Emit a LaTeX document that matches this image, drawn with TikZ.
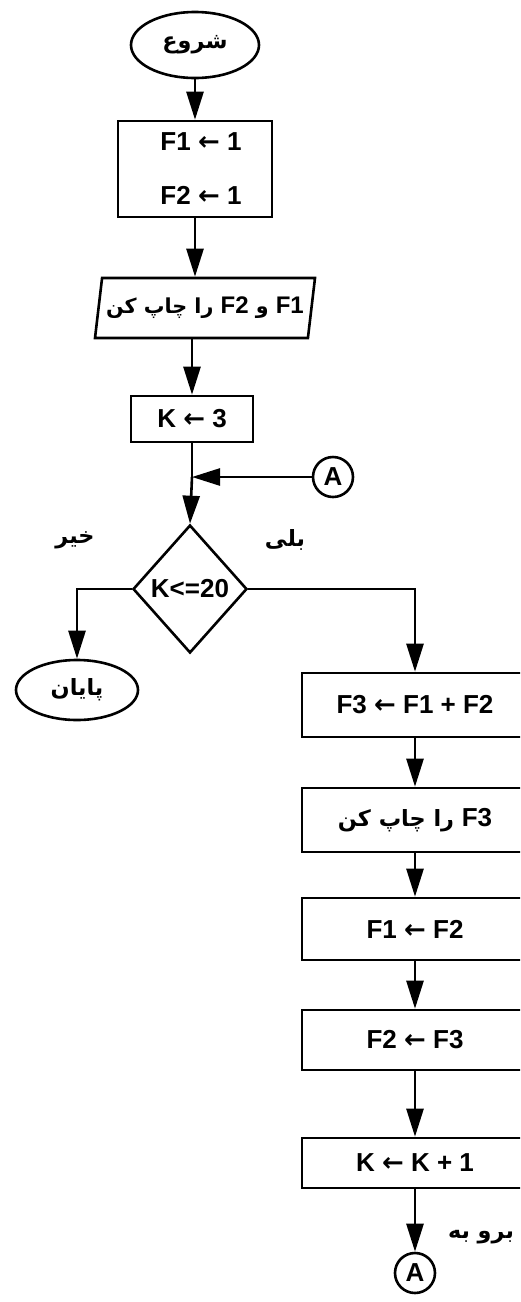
\documentclass[tikz,border=0pt]{standalone}
\usepackage{fontspec}
\setmainfont{Liberation Sans}
\newfontfamily\fafont[Script=Arabic,Scale=0.86]{DejaVu Sans}
\newfontfamily\pfeilfont{DejaVu Sans}
\TeXXeTstate=1
\usetikzlibrary{shapes.geometric,arrows.meta,positioning}

% persischer Text (rechts nach links), lateinische Teile darin
\newcommand{\fa}[1]{{\fafont\beginR #1\endR}}
\newcommand{\la}[1]{\beginL{\rmfamily #1}\endL{}}
% Zuweisungspfeil
\newcommand{\zuw}{{\pfeilfont\fontsize{13}{15}\selectfont ←}}

\tikzset{
  >={Triangle[length=14pt,width=8.5pt]},
  every node/.style={font=\bfseries\fontsize{13}{15}\selectfont},
  linie/.style={line width=1.3pt},
  pfeil/.style={linie,->},
  grenze/.style={ellipse,draw,line width=1.3pt,inner sep=0pt},
  anweisung/.style={rectangle,draw,line width=1.3pt,inner sep=0pt},
  ausgabe/.style={trapezium,trapezium left angle=72,trapezium right angle=108,
    trapezium stretches body,draw,line width=1.3pt,inner sep=0pt},
  frage/.style={diamond,draw,line width=1.3pt,inner sep=0pt},
  verbinder/.style={circle,draw,line width=1.3pt,inner sep=0pt,minimum size=20pt},
}

\begin{document}
\begin{tikzpicture}[x=0.5pt,y=-0.5pt]
\useasboundingbox (0,0) rectangle (520,1302);
\clip (0,0) rectangle (520,1302);

% Start und Initialisierung
\node[grenze,minimum width=64pt,minimum height=33pt] (start) at (195,45) {\fa{شروع}};
\node[anweisung,minimum width=77pt,minimum height=48pt,align=center] (init) at (195,169)
  {\hspace*{6pt}F1 \zuw{} 1\\[12pt]\hspace*{6pt}F2 \zuw{} 1};
\node[ausgabe,minimum width=110pt,minimum height=30pt,font=\bfseries\fontsize{12}{14}\selectfont]
  (druck) at (205,308) {\fa{\la{F1} و \la{F2} را چاپ کن}};
\node[anweisung,minimum width=61pt,minimum height=23pt] (k) at (192,419) {K \zuw{} 3};

% Rücksprung A und Entscheidung
\coordinate (m) at (192,477);
\node[verbinder] (a1) at (333,477) {A};
\node[frage,minimum width=57pt,minimum height=64pt] (dec) at (190,589) {K<=20};
\node (nein) at (75,540) {\fa{خیر}};
\node (ja) at (285,540) {\fa{بلی}};
\node[grenze,minimum width=61pt,minimum height=30pt] (ende) at (77,690) {\fa{پایان}};

% Schleifenrumpf
\node[anweisung,minimum width=113pt,minimum height=32pt] (b1) at (415,705) {F3 \zuw{} F1 + F2};
\node[anweisung,minimum width=113pt,minimum height=32pt] (b2) at (415,820) {\fa{\la{F3} را چاپ کن}};
\node[anweisung,minimum width=113pt,minimum height=31pt] (b3) at (415,929) {F1 \zuw{} F2};
\node[anweisung,minimum width=113pt,minimum height=30pt] (b4) at (415,1040) {F2 \zuw{} F3};
\node[anweisung,minimum width=113pt,minimum height=25pt] (b5) at (415,1163) {K \zuw{} K + 1};
\node[verbinder] (a2) at (415,1273) {A};
\node (geh) at (481,1237) {\fa{برو به}};

% Pfeile
\draw[pfeil] (start.south) -- (start.south |- init.north);
\draw[pfeil] (init.south) -- (init.south |- druck.north);
\draw[pfeil] (k.north |- druck.south) -- (k.north);
\draw[linie] (k.south) -- (m);
\draw[pfeil] (m) -- (dec.north);
\draw[pfeil] (a1.west) -- (m);
\draw[pfeil] (dec.west) -| (ende.north);
\draw[pfeil] (dec.east) -| (b1.north);
\draw[pfeil] (b1) -- (b2);
\draw[pfeil] (b2) -- (b3);
\draw[pfeil] (b3) -- (b4);
\draw[pfeil] (b4) -- (b5);
\draw[pfeil] (b5) -- (a2);
\end{tikzpicture}
\end{document}
